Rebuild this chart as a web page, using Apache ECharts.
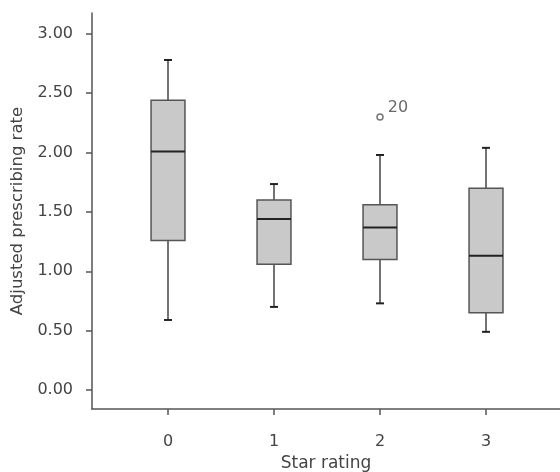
<!DOCTYPE html>
<html>
<head>
<meta charset="utf-8">
<script src="https://cdn.jsdelivr.net/npm/echarts@6/dist/echarts.min.js"></script>
<style>
  html, body { margin: 0; padding: 0; background: #fff; }
  #chart { width: 560px; height: 472px; }
</style>
</head>
<body>
<div id="chart"></div>
<script>
// star rating groups and their box statistics (min, q1, median, q3, max)
var starRatings = [0, 1, 2, 3];
var whiskerLow  = [0.59, 0.70, 0.73, 0.49];
var quartile1   = [1.26, 1.06, 1.10, 0.65];
var medians     = [2.01, 1.44, 1.37, 1.13];
var quartile3   = [2.44, 1.60, 1.56, 1.70];
var whiskerHigh = [2.78, 1.735, 1.98, 2.04];

// outliers: [star rating, value, case label]
var outliers = [[2, 2.30, '20']];

var yTicks = [0, 0.5, 1, 1.5, 2, 2.5, 3];

var boxData = starRatings.map(function (s, i) {
  return [s, whiskerLow[i], quartile1[i], medians[i], quartile3[i], whiskerHigh[i]];
});

var stroke = '#444';
var font = 'DejaVu Sans';

function renderBox(params, api) {
  var x = api.value(0);
  var lo = api.coord([x, api.value(1)]);
  var q1 = api.coord([x, api.value(2)]);
  var md = api.coord([x, api.value(3)]);
  var q3 = api.coord([x, api.value(4)]);
  var hi = api.coord([x, api.value(5)]);
  var half = api.size([0.32, 0])[0] / 2;
  var cap = 4;
  var cx = lo[0];
  var ls = { stroke: stroke, lineWidth: 1.5 };
  return {
    type: 'group',
    children: [
      { type: 'line', shape: { x1: cx, y1: lo[1], x2: cx, y2: q1[1] }, style: ls },
      { type: 'line', shape: { x1: cx, y1: q3[1], x2: cx, y2: hi[1] }, style: ls },
      { type: 'line', shape: { x1: cx - cap, y1: lo[1], x2: cx + cap, y2: lo[1] }, style: { stroke: '#222', lineWidth: 2 } },
      { type: 'line', shape: { x1: cx - cap, y1: hi[1], x2: cx + cap, y2: hi[1] }, style: { stroke: '#222', lineWidth: 2 } },
      { type: 'rect', shape: { x: cx - half, y: q3[1], width: half * 2, height: q1[1] - q3[1] },
        style: { fill: '#c9c9c9', stroke: '#555', lineWidth: 1.5 } },
      { type: 'line', shape: { x1: cx - half, y1: md[1], x2: cx + half, y2: md[1] }, style: { stroke: '#222', lineWidth: 2 } }
    ]
  };
}

var chart = echarts.init(document.getElementById('chart'));
chart.setOption({
  backgroundColor: '#fff',
  animation: false,
  textStyle: { fontFamily: font },
  grid: { left: 92, right: 0, top: 13, bottom: 63, outerBoundsMode: 'none', containLabel: false },
  xAxis: {
    type: 'value',
    min: -0.717,
    max: 3.698,
    name: 'Star rating',
    nameLocation: 'middle',
    nameGap: 45,
    nameTextStyle: { fontSize: 17, color: '#444', fontFamily: font },
    splitLine: { show: false },
    axisLine: { show: true, onZero: false, lineStyle: { color: '#555', width: 1.5 } },
    axisTick: { show: true, length: 6, customValues: starRatings, lineStyle: { color: '#555', width: 1.5 } },
    axisLabel: { customValues: starRatings, margin: 25, fontSize: 16, color: '#444', fontFamily: font }
  },
  yAxis: {
    type: 'value',
    min: -0.16,
    max: 3.176,
    name: 'Adjusted prescribing rate',
    nameLocation: 'middle',
    nameGap: 63,
    nameTextStyle: { fontSize: 16.5, color: '#444', fontFamily: font },
    splitLine: { show: false },
    axisLine: { show: true, onZero: false, lineStyle: { color: '#555', width: 1.5 } },
    axisTick: { show: true, length: 6, customValues: yTicks, lineStyle: { color: '#555', width: 1.5 } },
    axisLabel: {
      customValues: yTicks, margin: 19, fontSize: 16, color: '#444', fontFamily: font,
      formatter: function (v) { return v.toFixed(2); }
    }
  },
  series: [
    {
      type: 'custom',
      renderItem: renderBox,
      data: boxData,
      encode: { x: 0, y: [1, 2, 3, 4, 5] }
    },
    {
      type: 'scatter',
      data: outliers,
      symbol: 'circle',
      symbolSize: 6,
      itemStyle: { color: '#fff', borderColor: '#555', borderWidth: 1.5 },
      label: {
        show: true, position: 'right', distance: 4, fontSize: 16, color: '#444', fontFamily: font,
        offset: [0, -9],
        formatter: function (p) { return p.data[2]; }
      }
    }
  ]
});
</script>
</body>
</html>
